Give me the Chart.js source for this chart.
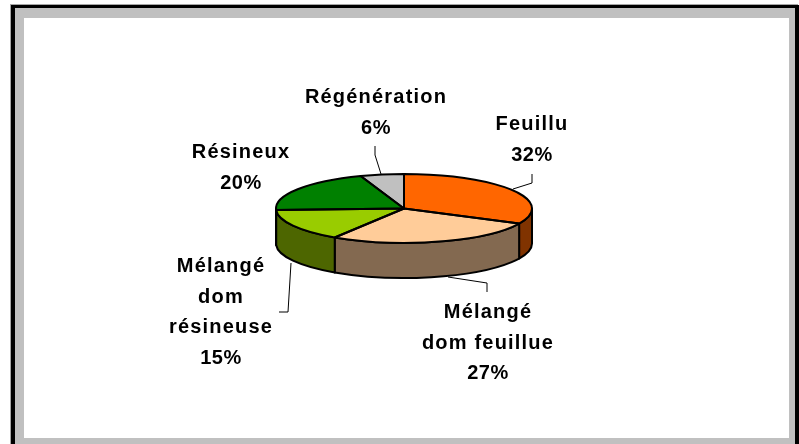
<!DOCTYPE html>
<html>
<head>
<meta charset="utf-8">
<title>Types de peuplement</title>
<script src="https://cdn.jsdelivr.net/npm/chart.js@4/dist/chart.umd.min.js"></script>
<style>
  html, body { margin: 0; padding: 0; background: #fff; overflow: hidden; }
  #frame { position: absolute; left: 11px; top: 5px; width: 780px; height: 445px;
           border: solid #000; border-width: 3px 4px 0 4px; background: #c0c0c0;
           box-shadow: -1px -1px 0 #a6a6a6; }
  #paper { position: absolute; left: 24px; top: 18px; width: 765px; height: 420px; background: #fff; }
  canvas { position: absolute; left: 0; top: 0; }
</style>
</head>
<body>
<div id="frame"></div>
<div id="paper"></div>
<canvas id="pie" width="799" height="444"></canvas>
<script>
const categories = ["Feuillu", "Mélangé dom feuillue", "Mélangé dom résineuse", "Résineux", "Régénération"];
const values = [32.2, 26.9, 15.2, 20.2, 5.5];
const topColors = ["#ff6600", "#ffcc99", "#99cc00", "#008000", "#c0c0c0"];
const sideColors = ["#803300", "#836950", "#4d6600", "#004000", "#606060"];

// how the category names wrap on the picture, with centre x and first baseline of each label
const labelLines = [["Feuillu"], ["Mélangé", "dom feuillue"], ["Mélangé", "dom", "résineuse"], ["Résineux"], ["Régénération"]];
const labelPos = [[532, 130], [488, 318], [221, 272], [241, 158], [376, 103]];
const leaders = [
  [[532, 174], [532, 183], [513, 189]],
  [[448, 277], [487, 283], [487, 292]],
  [[291, 263], [288, 312], [279, 312]],
  [[381, 174], [375, 155], [375, 146]]
];

const SQUASH = 34.5 / 128;
const DEPTH = 35;
const LINE_GAP = 30.5;

function slicePath(ctx, x, y, r, start, end) {
  ctx.beginPath();
  ctx.moveTo(x, y);
  ctx.ellipse(x, y, r, r * SQUASH, 0, start, end);
  ctx.closePath();
}

const pie3d = {
  id: "pie3d",
  beforeDatasetDraw(chart) {
    const ctx = chart.ctx;
    const arcs = chart.getDatasetMeta(0).data;
    ctx.lineWidth = 2;
    ctx.strokeStyle = "#000";
    ctx.lineJoin = "round";

    // side wall, only where a slice is on the front half
    arcs.forEach((arc, i) => {
      const p = arc.getProps(["x", "y", "startAngle", "endAngle", "outerRadius"]);
      const a = Math.max(p.startAngle, 0);
      const b = Math.min(p.endAngle, Math.PI);
      if (b <= a) return;
      const ry = p.outerRadius * SQUASH;
      ctx.beginPath();
      ctx.ellipse(p.x, p.y, p.outerRadius, ry, 0, a, b);
      ctx.lineTo(p.x + p.outerRadius * Math.cos(b), p.y + ry * Math.sin(b) + DEPTH);
      ctx.ellipse(p.x, p.y + DEPTH, p.outerRadius, ry, 0, b, a, true);
      ctx.closePath();
      ctx.fillStyle = sideColors[i];
      ctx.fill();
      ctx.stroke();
    });

    // the library draws the top faces, flattened
    const c = arcs[0].getProps(["x", "y"]);
    ctx.save();
    ctx.translate(c.x, c.y);
    ctx.scale(1, SQUASH);
    ctx.translate(-c.x, -c.y);
  },
  afterDatasetDraw(chart) {
    const ctx = chart.ctx;
    ctx.restore();
    chart.getDatasetMeta(0).data.forEach((arc) => {
      const p = arc.getProps(["x", "y", "startAngle", "endAngle", "outerRadius"]);
      slicePath(ctx, p.x, p.y, p.outerRadius, p.startAngle, p.endAngle);
      ctx.lineWidth = 2;
      ctx.strokeStyle = "#000";
      ctx.stroke();
    });
  },
  afterDraw(chart) {
    const ctx = chart.ctx;
    ctx.strokeStyle = "#000";
    ctx.lineWidth = 1;
    leaders.forEach((pts) => {
      ctx.beginPath();
      pts.forEach((pt, i) => (i ? ctx.lineTo(pt[0], pt[1]) : ctx.moveTo(pt[0], pt[1])));
      ctx.stroke();
    });

    ctx.fillStyle = "#000";
    ctx.font = "bold 20px 'Liberation Sans', Arial, sans-serif";
    ctx.textAlign = "center";
    ctx.textBaseline = "alphabetic";
    categories.forEach((name, i) => {
      const lines = labelLines[i].concat(Math.round(values[i]) + "%");
      lines.forEach((line, j) => {
        // the percent line is set tighter than the names
        ctx.letterSpacing = j === lines.length - 1 ? "0.5px" : "1.2px";
        ctx.fillText(line, labelPos[i][0], labelPos[i][1] + j * LINE_GAP);
      });
    });
  }
};

new Chart(document.getElementById("pie"), {
  type: "pie",
  data: {
    labels: categories,
    datasets: [{ data: values, backgroundColor: topColors, borderWidth: 0, radius: 128 }]
  },
  options: {
    responsive: false,
    animation: false,
    layout: { padding: { left: 9, right: 0, top: 1, bottom: 28 } },
    plugins: { legend: { display: false }, tooltip: { enabled: false } }
  },
  plugins: [pie3d]
});
</script>
</body>
</html>
